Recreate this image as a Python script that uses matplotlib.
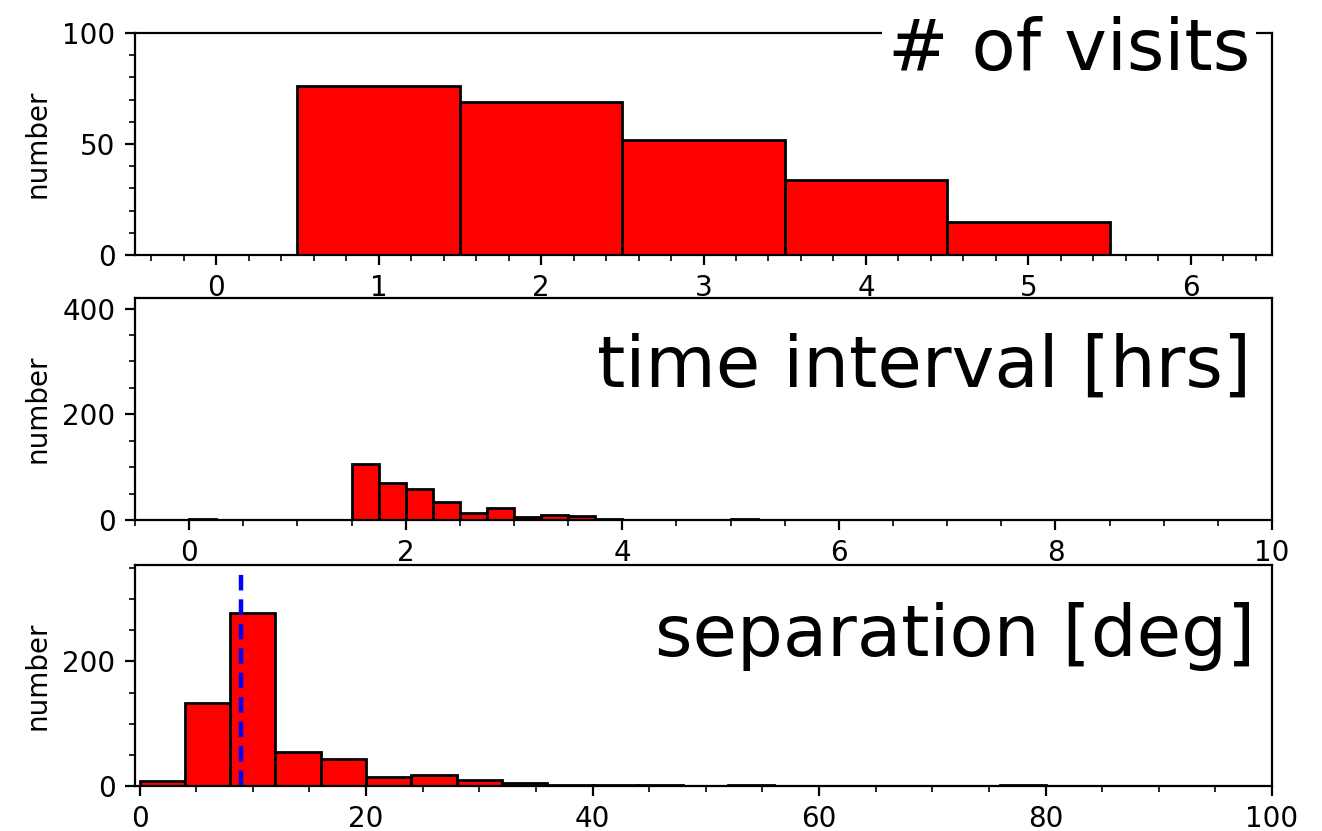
import matplotlib.pyplot as plt
import numpy as np
from matplotlib.ticker import MultipleLocator

# ---------------- data
visits = [1, 2, 3, 4, 5]
visit_counts = [76, 69, 52, 34, 15]

# time interval histogram, bins of 0.25 hrs starting at 0 (left edges)
dt_edges = np.arange(0, 9.75, 0.25)
dt_counts = [2, 0, 0, 0, 0, 0, 106, 70, 58, 34,
             13, 23, 5, 9, 7, 2, 0, 0, 1, 0,
             2, 0, 0, 0, 0, 0, 0, 0, 0, 0,
             0, 0, 0, 0, 0, 0, 0, 0, 0]

# separation histogram, bins of 4 deg (left edges)
sep_edges = np.arange(0, 96, 4)
sep_counts = [8, 134, 277, 55, 44, 15, 18, 10, 4, 1,
              1, 1, 0, 1, 0, 0, 0, 0, 0, 1,
              0, 0, 0, 0]
sep_median = 9.0

red = '#ff0000'
title_kw = dict(ha='right', va='center', fontsize=26,
                bbox=dict(facecolor='white', edgecolor='none', pad=2))

fig = plt.figure(figsize=(6.61, 4.155), dpi=200)
ax1 = fig.add_axes([0.1021, 0.6931, 0.8601, 0.2672])
ax2 = fig.add_axes([0.1021, 0.3742, 0.8601, 0.2672])
ax3 = fig.add_axes([0.1021, 0.0542, 0.8601, 0.2660])

# ---------------- # of visits
ax1.bar(visits, visit_counts, width=1.0, color=red, edgecolor='black', linewidth=1.0)
ax1.set_xlim(-0.5, 6.5)
ax1.set_ylim(0, 100)
ax1.xaxis.set_major_locator(MultipleLocator(1))
ax1.xaxis.set_minor_locator(MultipleLocator(0.2))
ax1.yaxis.set_major_locator(MultipleLocator(50))
ax1.yaxis.set_minor_locator(MultipleLocator(10))
ax1.set_ylabel('number')
ax1.text(0.981, 0.923, '# of visits', transform=ax1.transAxes, **title_kw)

# ---------------- time interval
ax2.bar(dt_edges, dt_counts, width=0.25, align='edge', color=red,
        edgecolor='black', linewidth=1.0)
ax2.set_xlim(-0.5, 10)
ax2.set_ylim(0, 420)
ax2.xaxis.set_major_locator(MultipleLocator(2))
ax2.xaxis.set_minor_locator(MultipleLocator(0.5))
ax2.yaxis.set_major_locator(MultipleLocator(200))
ax2.yaxis.set_minor_locator(MultipleLocator(50))
ax2.set_ylabel('number')
ax2.text(0.982, 0.690, 'time interval [hrs]', transform=ax2.transAxes, **title_kw)

# ---------------- separation
ax3.bar(sep_edges, sep_counts, width=4, align='edge', color=red,
        edgecolor='black', linewidth=1.0)
ax3.axvline(sep_median, color='blue', linestyle='--', linewidth=1.6, dashes=(3.5, 2))
ax3.set_xlim(-0.4, 100)
ax3.set_ylim(0, 355)
ax3.xaxis.set_major_locator(MultipleLocator(20))
ax3.xaxis.set_minor_locator(MultipleLocator(5))
ax3.yaxis.set_major_locator(MultipleLocator(200))
ax3.yaxis.set_minor_locator(MultipleLocator(50))
ax3.set_ylabel('number')
ax3.text(0.985, 0.675, 'separation [deg]', transform=ax3.transAxes, **title_kw)

for ax in (ax1, ax2, ax3):
    ax.tick_params(which='major', length=3.5)
    ax.tick_params(which='minor', length=2)

fig.savefig('out.png', dpi=200)
